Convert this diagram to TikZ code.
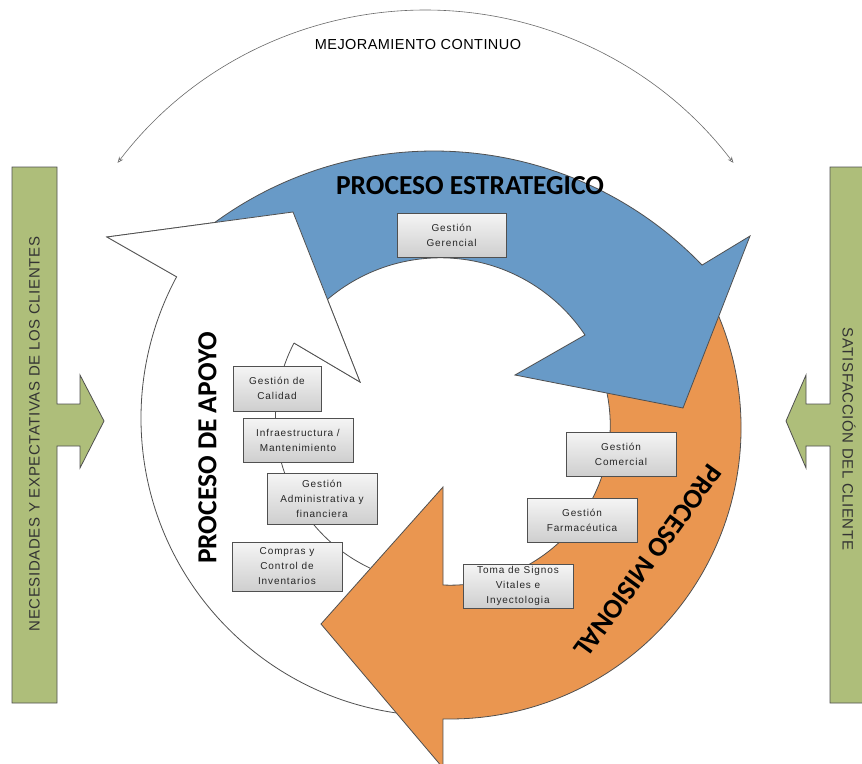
\documentclass[tikz,border=0pt]{standalone}
\usepackage{fontspec}
\setmainfont{Liberation Sans}
\newfontfamily\titlefont{Carlito}
\newfontfamily\smallfont[LetterSpace=9]{Liberation Sans}
\newfontfamily\barfont[LetterSpace=4]{Liberation Sans}
\newfontfamily\mejorafont[LetterSpace=3]{Liberation Sans}
\usetikzlibrary{%
    arrows.meta,
    calc,
    positioning
}
\definecolor{estrategico}{RGB}{104,154,199}
\definecolor{misional}{RGB}{234,150,80}
\definecolor{cliente}{RGB}{174,190,122}
\definecolor{borde}{RGB}{80,80,80}
\tikzset{headarrow/.style = {{Stealth[open,length=6pt,width=5pt]}-{Stealth[open,length=6pt,width=5pt]}}}

\begin{document}
\begin{tikzpicture}[
    x=1pt, y=-1pt,
    proceso/.style = {draw=borde, line width=0.8pt},
    gestion/.style = {draw=borde, line width=0.9pt, top color=gray!8, bottom color=gray!38,
        align=center, inner sep=0pt, text=black!85,
        font=\smallfont\fontsize{10}{15}\selectfont},
    titulo/.style = {font=\titlefont\bfseries\fontsize{27.5}{30}\selectfont},
    cinta/.style = {font=\barfont\fontsize{15}{17}\selectfont, text=black!80}]
    \clip (0,0) rectangle (862,763);
    \fill[white] (0,0) rectangle (862,763);

    % centres of the three rings
    \coordinate (apoyo) at (439,418);
    \coordinate (estB) at (434,523);
    \coordinate (misC) at (450,428);
    \coordinate (mejora) at (425.5,396.5);

    % proceso de apoyo (white ring)
    \filldraw[proceso, fill=white]
        ($(apoyo)+(92:298)$) arc[start angle=92, end angle=208.3, radius=298]
        -- (107,237) -- (293,212) -- (360,382) -- (294,343)
        arc[start angle=207.4, end angle=92, radius=165] -- cycle;

    % proceso misional (orange ring)
    \filldraw[proceso, fill=misional]
        ($(misC)+(-30:291)$) arc[start angle=-30, end angle=91.4, radius=291]
        -- (443,768) -- (321,624) -- (443,487) -- (443,585)
        arc[start angle=92.6, end angle=-30, radius=160] -- cycle;

    % proceso estrategico (blue ring)
    \filldraw[proceso, fill=estrategico]
        ($(estB)+(231:372)$) arc[start angle=231, end angle=316.1, radius=372]
        -- (750,236) -- (683,408) -- (515,375) -- (585,335)
        arc[start angle=326.2, end angle=216.3, radius=174] -- cycle;

    % head of the white ring goes over the blue tail
    \fill[white] (177,277) -- (107,237) -- (293,212) -- (360,382) -- (294,343) -- cycle;
    \draw[proceso] (177,277) -- (107,237) -- (293,212) -- (360,382) -- (294,343);

    % mejoramiento continuo
    \draw[headarrow, draw=borde!85, line width=0.6pt]
        ($(mejora)+(217.2:386.5)$) arc[start angle=217.2, end angle=322.8, radius=386.5];
    \node[font=\mejorafont\fontsize{14.5}{16}\selectfont] (mejoramiento) at (418,45) {MEJORAMIENTO CONTINUO};

    % entrada y salida
    \filldraw[proceso, fill=cliente] (12,167) -- (57,167) -- (57,404) -- (80,404) -- (80,375)
        -- (104,421) -- (80,468) -- (80,446) -- (57,446) -- (57,703) -- (12,703) -- cycle;
    \filldraw[proceso, fill=cliente] (880,167) -- (830,167) -- (830,404) -- (806,404) -- (806,375)
        -- (786,421) -- (806,468) -- (806,446) -- (830,446) -- (830,703) -- (880,703) -- cycle;
    \node[cinta, rotate=90] (necesidades) at (34.5,434) {NECESIDADES Y EXPECTATIVAS DE LOS CLIENTES};
    \node[cinta, rotate=-90] (satisfaccion) at (849,439) {SATISFACCIÓN DEL CLIENTE};

    % titulos de los procesos
    \node[titulo] (estrategico) at (470,186) {PROCESO ESTRATEGICO};
    \node[titulo, rotate=90] (apoyoT) at (207.5,448) {PROCESO DE APOYO};
    \node[titulo, rotate=-126] (misional) at (648,561) {PROCESO MISIONAL};

    % cajas de gestion
    \node[gestion, minimum width=109pt, minimum height=44pt] (gerencial) at (451.5,235) {Gestión\\Gerencial};
    \node[gestion, minimum width=88pt, minimum height=45pt] (calidad) at (277,388.5) {Gestión de\\Calidad};
    \node[gestion, minimum width=110pt, minimum height=44pt] (infra) at (298,440) {Infraestructura /\\Mantenimiento};
    \node[gestion, minimum width=110pt, minimum height=51pt] (admin) at (322,498.5) {Gestión\\Administrativa y\\financiera};
    \node[gestion, minimum width=110pt, minimum height=49pt] (compras) at (287,566.5) {Compras y\\Control de\\Inventarios};
    \node[gestion, minimum width=110pt, minimum height=44pt] (comercial) at (621,454) {Gestión\\Comercial};
    \node[gestion, minimum width=110pt, minimum height=44pt] (farma) at (582,520) {Gestión\\Farmacéutica};
    \node[gestion, minimum width=110pt, minimum height=44pt] (toma) at (518,586) {Toma de Signos\\Vitales e\\Inyectologia};
\end{tikzpicture}
\end{document}
